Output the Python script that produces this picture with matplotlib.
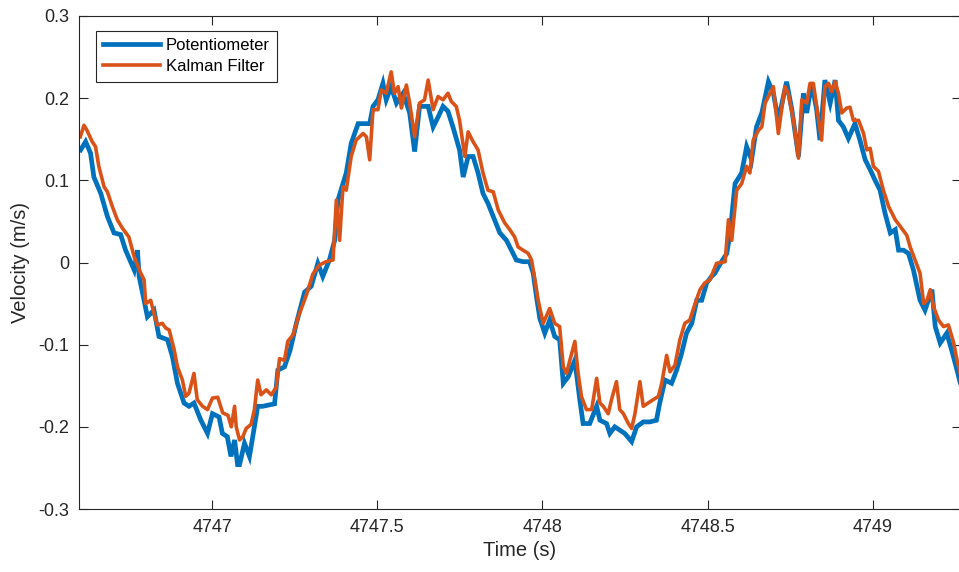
import matplotlib
matplotlib.use("Agg")
import matplotlib.pyplot as plt

# Potentiometer vs Kalman filter velocity
t_pot = [4746.602, 4746.617, 4746.632, 4746.642, 4746.663, 4746.683, 4746.703, 4746.723,
         4746.738, 4746.764, 4746.774, 4746.779, 4746.794, 4746.804, 4746.824, 4746.839,
         4746.865, 4746.880, 4746.895, 4746.915, 4746.930, 4746.945, 4746.966, 4746.986,
         4747.001, 4747.021, 4747.031, 4747.046, 4747.057, 4747.068, 4747.077, 4747.083,
         4747.098, 4747.113, 4747.123, 4747.138, 4747.153, 4747.189, 4747.199, 4747.219,
         4747.236, 4747.255, 4747.280, 4747.300, 4747.320, 4747.335, 4747.355, 4747.371,
         4747.381, 4747.396, 4747.406, 4747.421, 4747.442, 4747.477, 4747.487, 4747.502,
         4747.517, 4747.527, 4747.542, 4747.558, 4747.578, 4747.598, 4747.613, 4747.628,
         4747.654, 4747.669, 4747.684, 4747.699, 4747.714, 4747.729, 4747.749, 4747.760,
         4747.775, 4747.790, 4747.805, 4747.820, 4747.835, 4747.851, 4747.871, 4747.891,
         4747.906, 4747.921, 4747.941, 4747.961, 4747.972, 4747.982, 4747.992, 4748.007,
         4748.022, 4748.037, 4748.052, 4748.063, 4748.078, 4748.098, 4748.113, 4748.123,
         4748.143, 4748.164, 4748.174, 4748.194, 4748.204, 4748.219, 4748.234, 4748.249,
         4748.270, 4748.285, 4748.305, 4748.325, 4748.345, 4748.355, 4748.371, 4748.391,
         4748.406, 4748.421, 4748.436, 4748.452, 4748.467, 4748.482, 4748.497, 4748.512,
         4748.522, 4748.542, 4748.558, 4748.568, 4748.583, 4748.603, 4748.618, 4748.633,
         4748.648, 4748.664, 4748.684, 4748.699, 4748.714, 4748.739, 4748.755, 4748.775,
         4748.790, 4748.800, 4748.815, 4748.830, 4748.840, 4748.855, 4748.871, 4748.886,
         4748.896, 4748.911, 4748.926, 4748.946, 4748.961, 4748.977, 4748.992, 4749.007,
         4749.022, 4749.037, 4749.053, 4749.068, 4749.078, 4749.093, 4749.108, 4749.123,
         4749.143, 4749.158, 4749.179, 4749.189, 4749.204, 4749.224, 4749.239, 4749.255,
         4749.265]
v_pot = [0.137, 0.147, 0.133, 0.104, 0.084, 0.056, 0.036, 0.034,
         0.015, -0.009, 0.015, -0.017, -0.046, -0.066, -0.058, -0.090,
         -0.094, -0.115, -0.147, -0.171, -0.175, -0.171, -0.192, -0.208,
         -0.184, -0.188, -0.208, -0.212, -0.236, -0.216, -0.246, -0.246,
         -0.220, -0.236, -0.212, -0.175, -0.175, -0.172, -0.131, -0.127,
         -0.107, -0.074, -0.036, -0.029, -0.001, -0.017, 0.003, 0.027,
         0.076, 0.096, 0.109, 0.145, 0.169, 0.169, 0.190, 0.198,
         0.218, 0.198, 0.214, 0.194, 0.206, 0.182, 0.135, 0.190,
         0.190, 0.165, 0.177, 0.190, 0.184, 0.165, 0.137, 0.104,
         0.129, 0.129, 0.109, 0.084, 0.072, 0.056, 0.036, 0.027,
         0.015, 0.003, 0.001, 0.001, -0.013, -0.042, -0.068, -0.086,
         -0.070, -0.090, -0.094, -0.147, -0.139, -0.119, -0.167, -0.196,
         -0.196, -0.175, -0.192, -0.196, -0.208, -0.200, -0.204, -0.208,
         -0.218, -0.200, -0.194, -0.194, -0.192, -0.171, -0.143, -0.147,
         -0.131, -0.111, -0.086, -0.074, -0.046, -0.046, -0.025, -0.017,
         -0.013, 0.001, 0.011, 0.036, 0.096, 0.109, 0.141, 0.125,
         0.165, 0.182, 0.220, 0.206, 0.173, 0.220, 0.186, 0.129,
         0.206, 0.182, 0.218, 0.186, 0.149, 0.222, 0.194, 0.222,
         0.173, 0.165, 0.151, 0.169, 0.149, 0.125, 0.113, 0.100,
         0.088, 0.060, 0.036, 0.040, 0.015, 0.015, 0.011, -0.009,
         -0.046, -0.058, -0.033, -0.078, -0.098, -0.086, -0.107, -0.131,
         -0.147]

t_kf = [4746.601, 4746.612, 4746.621, 4746.637, 4746.647, 4746.657, 4746.673, 4746.683,
        4746.698, 4746.713, 4746.728, 4746.748, 4746.764, 4746.784, 4746.794, 4746.799,
        4746.814, 4746.824, 4746.834, 4746.849, 4746.860, 4746.870, 4746.885, 4746.895,
        4746.910, 4746.920, 4746.930, 4746.945, 4746.955, 4746.971, 4746.986, 4747.001,
        4747.017, 4747.032, 4747.048, 4747.058, 4747.068, 4747.073, 4747.083, 4747.093,
        4747.103, 4747.118, 4747.128, 4747.138, 4747.148, 4747.164, 4747.179, 4747.194,
        4747.204, 4747.219, 4747.229, 4747.245, 4747.261, 4747.285, 4747.305, 4747.325,
        4747.345, 4747.366, 4747.376, 4747.386, 4747.396, 4747.406, 4747.421, 4747.436,
        4747.457, 4747.467, 4747.477, 4747.487, 4747.502, 4747.512, 4747.527, 4747.542,
        4747.552, 4747.563, 4747.573, 4747.588, 4747.598, 4747.613, 4747.628, 4747.643,
        4747.654, 4747.669, 4747.684, 4747.699, 4747.714, 4747.724, 4747.739, 4747.749,
        4747.765, 4747.775, 4747.790, 4747.805, 4747.820, 4747.835, 4747.851, 4747.866,
        4747.886, 4747.901, 4747.916, 4747.926, 4747.941, 4747.957, 4747.967, 4747.977,
        4747.987, 4748.002, 4748.022, 4748.037, 4748.052, 4748.063, 4748.073, 4748.083,
        4748.098, 4748.108, 4748.118, 4748.133, 4748.149, 4748.164, 4748.174, 4748.184,
        4748.199, 4748.209, 4748.224, 4748.234, 4748.245, 4748.260, 4748.270, 4748.280,
        4748.295, 4748.305, 4748.320, 4748.335, 4748.351, 4748.361, 4748.376, 4748.386,
        4748.401, 4748.416, 4748.431, 4748.446, 4748.462, 4748.477, 4748.491, 4748.507,
        4748.527, 4748.553, 4748.563, 4748.573, 4748.588, 4748.603, 4748.618, 4748.628,
        4748.638, 4748.654, 4748.664, 4748.674, 4748.689, 4748.699, 4748.714, 4748.724,
        4748.734, 4748.744, 4748.760, 4748.775, 4748.785, 4748.800, 4748.810, 4748.820,
        4748.830, 4748.845, 4748.855, 4748.866, 4748.876, 4748.886, 4748.896, 4748.906,
        4748.921, 4748.931, 4748.941, 4748.957, 4748.972, 4748.982, 4748.992, 4749.002,
        4749.017, 4749.032, 4749.048, 4749.068, 4749.083, 4749.103, 4749.113, 4749.128,
        4749.143, 4749.154, 4749.164, 4749.174, 4749.184, 4749.199, 4749.214, 4749.229,
        4749.245, 4749.255, 4749.265]
v_kf = [0.153, 0.167, 0.161, 0.147, 0.141, 0.117, 0.092, 0.086,
        0.068, 0.052, 0.042, 0.031, 0.007, -0.013, -0.021, -0.050,
        -0.046, -0.062, -0.076, -0.074, -0.080, -0.082, -0.106, -0.127,
        -0.143, -0.163, -0.159, -0.135, -0.167, -0.175, -0.179, -0.165,
        -0.164, -0.183, -0.186, -0.200, -0.175, -0.200, -0.216, -0.212,
        -0.202, -0.197, -0.179, -0.143, -0.161, -0.155, -0.161, -0.152,
        -0.117, -0.119, -0.096, -0.088, -0.066, -0.040, -0.014, -0.003,
        0.001, 0.003, 0.076, 0.027, 0.092, 0.088, 0.129, 0.149,
        0.157, 0.153, 0.125, 0.186, 0.186, 0.210, 0.206, 0.232,
        0.206, 0.214, 0.188, 0.216, 0.194, 0.153, 0.194, 0.198,
        0.222, 0.186, 0.202, 0.198, 0.206, 0.196, 0.190, 0.173,
        0.129, 0.159, 0.147, 0.137, 0.109, 0.088, 0.086, 0.064,
        0.048, 0.040, 0.031, 0.019, 0.015, 0.011, 0.003, -0.021,
        -0.046, -0.074, -0.056, -0.074, -0.078, -0.127, -0.135, -0.119,
        -0.096, -0.135, -0.163, -0.179, -0.179, -0.141, -0.171, -0.175,
        -0.184, -0.167, -0.145, -0.179, -0.184, -0.196, -0.202, -0.184,
        -0.145, -0.175, -0.171, -0.167, -0.163, -0.147, -0.113, -0.133,
        -0.125, -0.094, -0.074, -0.070, -0.050, -0.033, -0.025, -0.021,
        -0.001, 0.001, 0.052, 0.027, 0.088, 0.096, 0.117, 0.109,
        0.149, 0.161, 0.165, 0.194, 0.206, 0.214, 0.157, 0.186,
        0.214, 0.206, 0.173, 0.127, 0.198, 0.194, 0.218, 0.218,
        0.190, 0.149, 0.214, 0.218, 0.208, 0.220, 0.206, 0.182,
        0.188, 0.189, 0.173, 0.173, 0.157, 0.137, 0.139, 0.117,
        0.111, 0.088, 0.068, 0.052, 0.044, 0.033, 0.019, 0.003,
        -0.013, -0.050, -0.046, -0.033, -0.054, -0.070, -0.078, -0.076,
        -0.098, -0.119, -0.135]

x_ticks = [4747, 4747.5, 4748, 4748.5, 4749]
x_labels = ['4747', '4747.5', '4748', '4748.5', '4749']
y_ticks = [-0.3, -0.2, -0.1, 0, 0.1, 0.2, 0.3]
y_labels = ['-0.3', '-0.2', '-0.1', '0', '0.1', '0.2', '0.3']

plt.rcParams['font.family'] = ['Liberation Sans', 'DejaVu Sans']
dark = '#262626'

fig = plt.figure(figsize=(9.59, 5.72), dpi=100)
ax = fig.add_axes([79 / 959, 1 - 509 / 572, (961 - 79) / 959, (509 - 16) / 572])

ax.plot(t_pot, v_pot, color='#0072BD', linewidth=3.4, solid_joinstyle='miter',
        label='Potentiometer')
ax.plot(t_kf, v_kf, color='#D95319', linewidth=2.6, label='Kalman Filter')

ax.set_xlim(4746.597, 4749.267)
ax.set_ylim(-0.3, 0.3)
ax.set_xticks(x_ticks)
ax.set_xticklabels(x_labels)
ax.set_yticks(y_ticks)
ax.set_yticklabels(y_labels)

ax.tick_params(direction='in', length=6.5, width=0.8, colors=dark, labelsize=13,
               top=True, right=True, pad=7)
for s in ax.spines.values():
    s.set_color(dark)
    s.set_linewidth(0.8)

ax.set_xlabel('Time (s)', fontsize=14.5, color=dark, labelpad=4)
ax.set_ylabel('Velocity (m/s)', fontsize=14.5, color=dark, labelpad=6)

leg = ax.legend(loc='upper left', bbox_to_anchor=(0.019, 0.97), borderaxespad=0,
                fontsize=12, fancybox=False, framealpha=1, edgecolor=dark,
                handlelength=3.4, handletextpad=0.35, borderpad=0.45, labelspacing=0.35)
leg.get_frame().set_linewidth(0.8)
for txt in leg.get_texts():
    txt.set_color('black')

fig.savefig('out.png', dpi=100)
